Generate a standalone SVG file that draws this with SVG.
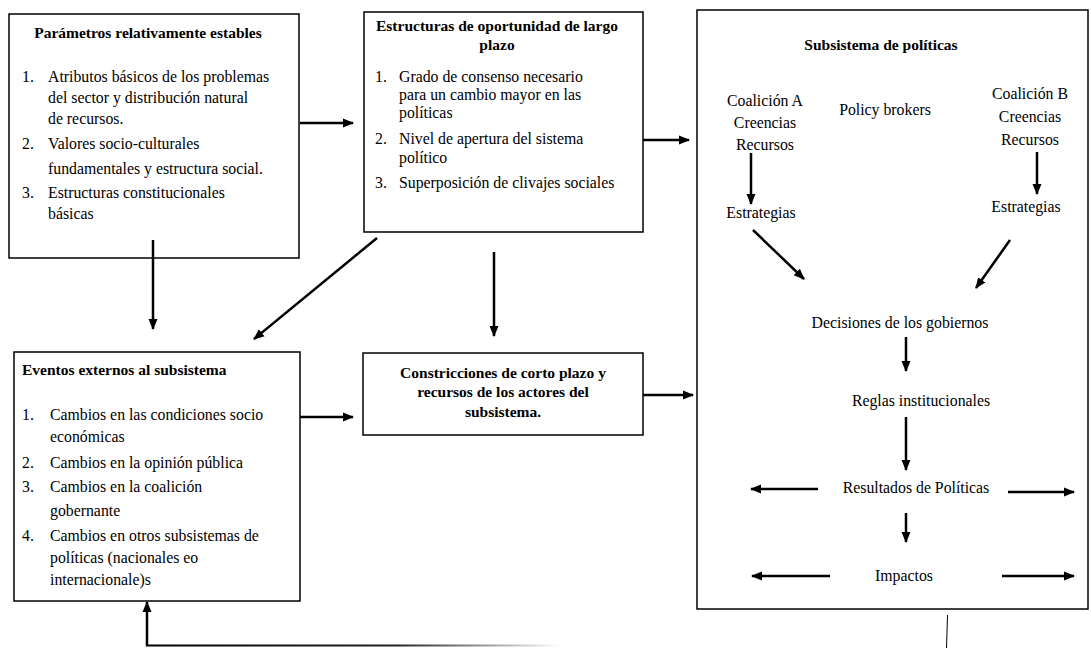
<svg xmlns="http://www.w3.org/2000/svg" width="1091" height="648" viewBox="0 0 1091 648" font-family="'Liberation Serif', 'DejaVu Serif', 'Times New Roman', Times, serif">
<style>
.box{fill:#fff;stroke:#000;stroke-width:1.5}
text{font-family:'Liberation Serif','DejaVu Serif','Times New Roman',Times,serif;font-size:15.8px;fill:#000}
.b{font-weight:bold;font-size:15.5px}
.c{text-anchor:middle}
.ar{stroke:#000;stroke-width:2.5;fill:none;marker-end:url(#ah)}
</style>
<defs>
<marker id="ah" markerUnits="userSpaceOnUse" markerWidth="12" markerHeight="12" viewBox="0 0 12 12" refX="10" refY="6" orient="auto">
<path d="M0,1.5 L11,6 L0,10.5 Z" fill="#000"/>
</marker>
<linearGradient id="fade" gradientUnits="userSpaceOnUse" x1="147" y1="0" x2="560" y2="0">
<stop offset="0" stop-color="#000"/>
<stop offset="0.6" stop-color="#222"/>
<stop offset="1" stop-color="#fff"/>
</linearGradient>
</defs>

<g id="parametros">
<rect class="box" x="9" y="14" width="290" height="244"/>
<text class="b c" x="148" y="38">Parámetros relativamente estables</text>
<text x="22" y="82">1.</text><text x="48" y="82">Atributos básicos de los problemas</text>
<text x="48" y="103">del  sector y distribución natural</text>
<text x="48" y="124">de recursos.</text>
<text x="22" y="149">2.</text><text x="48" y="149">Valores socio-culturales</text>
<text x="48" y="174">fundamentales y estructura social.</text>
<text x="22" y="198">3.</text><text x="48" y="198">Estructuras constitucionales</text>
<text x="48" y="219">básicas</text>
</g>

<g id="estructuras">
<rect class="box" x="364" y="12" width="279" height="220"/>
<text class="b c" x="497" y="31">Estructuras de oportunidad de largo</text>
<text class="b c" x="497" y="50">plazo</text>
<text x="375" y="82">1.</text><text x="399" y="82">Grado de consenso necesario</text>
<text x="399" y="100">para un cambio mayor en las</text>
<text x="399" y="118">políticas</text>
<text x="375" y="144">2.</text><text x="399" y="144">Nivel de apertura del sistema</text>
<text x="399" y="163">político</text>
<text x="375" y="188">3.</text><text x="399" y="188">Superposición de clivajes sociales</text>
</g>

<g id="eventos">
<rect class="box" x="14" y="352" width="286" height="249"/>
<text class="b" x="22" y="375">Eventos externos al subsistema</text>
<text x="22" y="420">1.</text><text x="50" y="420">Cambios en las condiciones socio</text>
<text x="50" y="442">económicas</text>
<text x="22" y="468">2.</text><text x="50" y="468">Cambios en la opinión pública</text>
<text x="22" y="492">3.</text><text x="50" y="492">Cambios en la coalición</text>
<text x="50" y="516">gobernante</text>
<text x="22" y="541">4.</text><text x="50" y="541">Cambios en otros subsistemas de</text>
<text x="50" y="563">políticas (nacionales eo</text>
<text x="50" y="585">internacionale)s</text>
</g>

<g id="constricciones">
<rect class="box" x="363" y="353" width="280" height="82"/>
<text class="b c" x="503" y="378">Constricciones de corto plazo y</text>
<text class="b c" x="503" y="397">recursos de los actores del</text>
<text class="b c" x="503" y="417">subsistema.</text>
</g>

<g id="subsistema">
<rect class="box" x="697" y="10" width="391" height="599"/>
<text class="b c" x="881" y="50">Subsistema de políticas</text>
<text class="c" x="765" y="106">Coalición A</text>
<text class="c" x="765" y="128">Creencias</text>
<text class="c" x="765" y="150">Recursos</text>
<text class="c" x="885" y="115">Policy brokers</text>
<text class="c" x="1030" y="99">Coalición B</text>
<text class="c" x="1030" y="122">Creencias</text>
<text class="c" x="1030" y="145">Recursos</text>
<text class="c" x="761" y="218">Estrategias</text>
<text class="c" x="1026" y="212">Estrategias</text>
<text class="c" x="900" y="328">Decisiones de los gobiernos</text>
<text class="c" x="921" y="406">Reglas institucionales</text>
<text class="c" x="916" y="493">Resultados de Políticas</text>
<text class="c" x="904" y="581">Impactos</text>
</g>

<g id="connectors">
<line class="ar" x1="300" y1="123" x2="353" y2="123"/>
<line class="ar" x1="643" y1="140" x2="689" y2="140"/>
<line class="ar" x1="153" y1="240" x2="153" y2="329"/>
<line class="ar" x1="377" y1="238" x2="254" y2="339"/>
<line class="ar" x1="494" y1="252" x2="494" y2="336"/>
<line class="ar" x1="300" y1="417" x2="353" y2="417"/>
<line class="ar" x1="643" y1="395" x2="693" y2="395"/>
<line class="ar" x1="751" y1="153" x2="751" y2="204"/>
<line class="ar" x1="1037" y1="152" x2="1037" y2="194"/>
<line class="ar" x1="753" y1="230" x2="804" y2="279"/>
<line class="ar" x1="1010" y1="240" x2="976" y2="288"/>
<line class="ar" x1="906" y1="337" x2="906" y2="371"/>
<line class="ar" x1="906" y1="417" x2="906" y2="470"/>
<line class="ar" x1="818" y1="489" x2="751" y2="489"/>
<line class="ar" x1="1008" y1="492" x2="1074" y2="492"/>
<line class="ar" x1="906" y1="513" x2="906" y2="542"/>
<line class="ar" x1="830" y1="576" x2="752" y2="576"/>
<line class="ar" x1="1002" y1="576" x2="1074" y2="576"/>
<line x1="947.5" y1="615" x2="946.5" y2="648" stroke="#000" stroke-width="1"/>
<line class="ar" x1="147" y1="646" x2="147" y2="602"/>
<line x1="146" y1="645.5" x2="560" y2="645.5" stroke="url(#fade)" stroke-width="2"/>
</g>
</svg>
